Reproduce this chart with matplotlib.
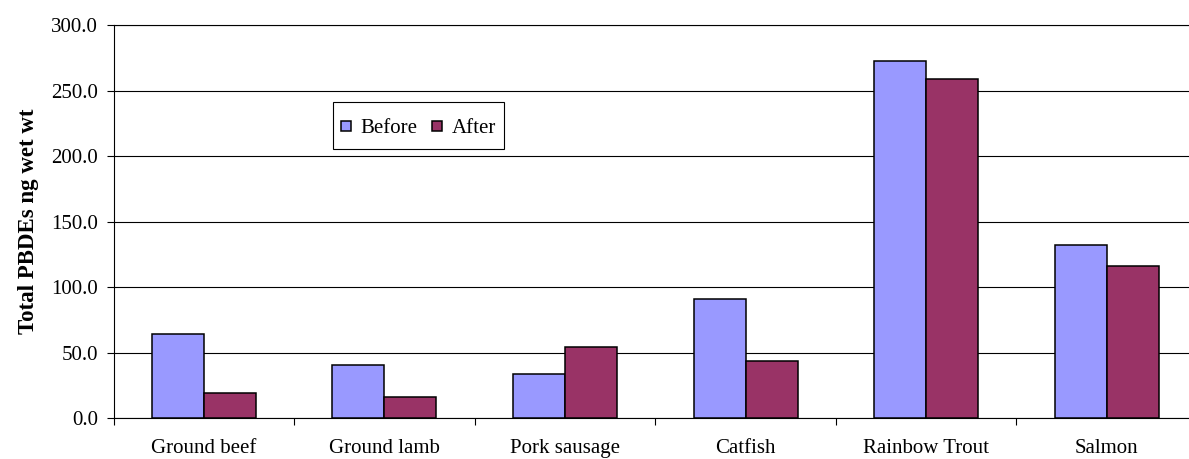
import matplotlib.pyplot as plt
import numpy as np
from matplotlib.patches import Patch, Rectangle
from matplotlib.legend_handler import HandlerPatch

categories = ["Ground beef", "Ground lamb", "Pork sausage", "Catfish", "Rainbow Trout", "Salmon"]
before = [64.3, 40.7, 33.8, 90.8, 272.5, 132.0]
after = [19.1, 16.0, 54.2, 43.7, 258.8, 115.8]
yticks = [0, 50, 100, 150, 200, 250, 300]

plt.rcParams['font.family'] = ['Liberation Serif', 'DejaVu Serif']

fig = plt.figure(figsize=(11.89, 4.59), dpi=100)
ax = fig.add_axes([113.5 / 1189, 41 / 459, 1083.6 / 1189, 393 / 459])

x = np.arange(len(categories))
w = 0.288
ax.bar(x - w / 2, before, width=w, color='#9999FF', edgecolor='black', linewidth=1.1, zorder=3)
ax.bar(x + w / 2, after, width=w, color='#993366', edgecolor='black', linewidth=1.1, zorder=3)

ax.set_xlim(-0.5, len(categories) - 0.5)
ax.set_ylim(0, 300)
ax.set_yticks(yticks)
ax.set_yticklabels([f"{v:.1f}" for v in yticks])
ax.yaxis.grid(True, color='black', linewidth=0.8, zorder=0)
ax.set_axisbelow(True)

ax.set_xticks(x)
ax.set_xticklabels(categories)
ax.set_xticks(np.arange(len(categories) + 1) - 0.5, minor=True)
ax.tick_params(axis='x', which='major', length=0, pad=15, labelsize=15)
ax.tick_params(axis='x', which='minor', length=5, width=0.8, direction='out')
ax.tick_params(axis='y', length=5, width=0.8, pad=6, labelsize=15)

for s in ['left', 'bottom', 'top']:
    ax.spines[s].set_linewidth(0.8)
ax.spines['right'].set_visible(False)

ax.set_ylabel("Total PBDEs ng wet wt", fontsize=16.5, fontweight='bold', labelpad=9)


# small square marker inside a taller legend row
def small_square(legend, orig_handle, xdescent, ydescent, width, height, fontsize):
    side = width
    return Rectangle((-xdescent, -ydescent + (height - side) / 2), side, side)


handles = [Patch(facecolor='#9999FF', edgecolor='black', linewidth=1.1),
           Patch(facecolor='#993366', edgecolor='black', linewidth=1.1)]
leg = ax.legend(handles, ["Before", "After"], ncol=2, loc='upper left',
                bbox_to_anchor=(0.2023, 0.803), borderaxespad=0, fontsize=15,
                handlelength=0.48, handleheight=1.85, handletextpad=0.45,
                columnspacing=0.7, borderpad=0.4, fancybox=False, framealpha=1,
                handler_map={Patch: HandlerPatch(patch_func=small_square)})
leg.get_frame().set_edgecolor('black')
leg.get_frame().set_linewidth(0.8)

fig.savefig("out.png", dpi=100)
